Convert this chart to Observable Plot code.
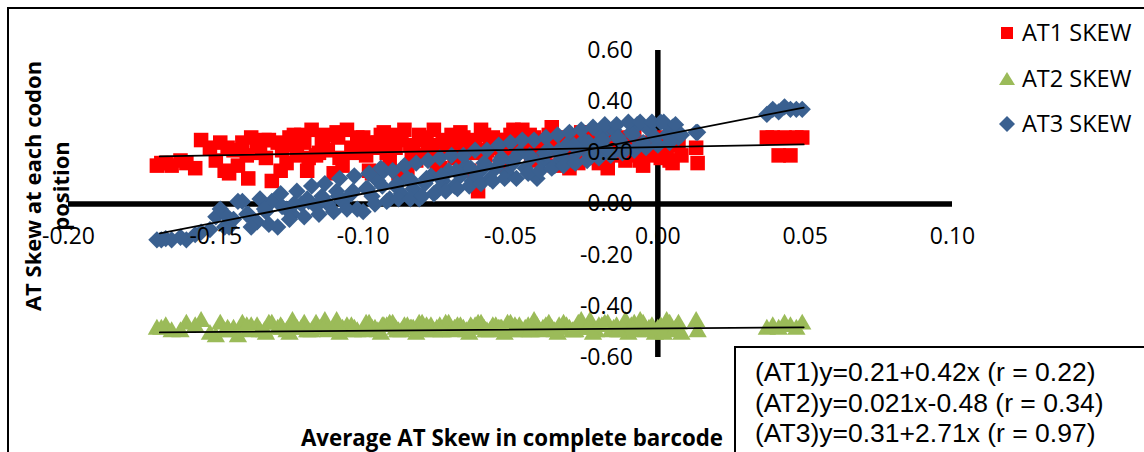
<!DOCTYPE html>
<html>
<head>
<meta charset="utf-8">
<script src="https://cdn.jsdelivr.net/npm/d3@7"></script>
<script src="https://cdn.jsdelivr.net/npm/@observablehq/plot@0.6"></script>
<style>
  html, body { margin: 0; padding: 0; background: #fff; }
  #wrap { position: relative; width: 1144px; height: 452px; overflow: hidden; font-family: "Open Sans", sans-serif; }
  #chart { position: absolute; left: 0; top: 0; }
  .frame { position: absolute; left: 7px; top: 7px; width: 1200px; height: 500px; border-left: 2px solid #000; border-top: 2px solid #000; }
  .ytitle { position: absolute; left: -104px; top: 158px; width: 300px; height: 56px; line-height: 28px; text-align: center; font-weight: 700; font-size: 22px; transform: rotate(-90deg); white-space: nowrap; }
  .xtitle { position: absolute; left: 262px; top: 423px; width: 500px; text-align: center; font-weight: 700; font-size: 22.3px; white-space: nowrap; line-height: 30px; }
  .legend { position: absolute; left: 998px; top: 17px; font-size: 23.5px; }
  .legend .item { position: relative; height: 45.5px; line-height: 30px; white-space: nowrap; }
  .legend svg { position: absolute; left: 0; top: 7px; }
  .legend span { position: absolute; left: 24px; top: 0; }
  .eqbox { position: absolute; left: 734px; top: 346px; width: 600px; height: 200px; border-left: 2px solid #000; border-top: 2px solid #000; font-family: "Liberation Sans", Arial, sans-serif; font-size: 26.5px; line-height: 30.5px; padding: 9px 0 0 19px; box-sizing: border-box; white-space: nowrap; }
</style>
</head>
<body>
<div id="wrap">
  <div id="chart"></div>
  <div class="frame"></div>
  <div class="ytitle">AT Skew at each codon<br>position</div>
  <div class="xtitle">Average AT Skew in complete barcode</div>
  <div class="legend" id="legend"></div>
  <div class="eqbox" id="eqbox"></div>
</div>
<script>
// ---- data ----
const seriesNames = ["AT1 SKEW", "AT2 SKEW", "AT3 SKEW"];
const seriesColors = ["#FF0000", "#9BBB59", "#3A6090"];
const xTicks = [-0.20, -0.15, -0.10, -0.05, 0.00, 0.05, 0.10];
const yTicks = [-0.60, -0.40, -0.20, 0.00, 0.20, 0.40, 0.60];
const equations = [
  "(AT1)y=0.21+0.42x (r = 0.22)",
  "(AT2)y=0.021x-0.48 (r = 0.34)",
  "(AT3)y=0.31+2.71x (r = 0.97)"
];
const avgSkew = [
  -0.170, -0.167, -0.165, -0.160, -0.155, -0.150, -0.147, -0.144, -0.141, -0.139,
  -0.136, -0.133, -0.131, -0.129, -0.126, -0.124, -0.121, -0.119, -0.116, -0.114,
  -0.112, -0.109, -0.107, -0.104, -0.102, -0.099, -0.097, -0.095, -0.093, -0.091,
  -0.089, -0.087, -0.085, -0.083, -0.081, -0.079, -0.077, -0.075, -0.073, -0.071,
  -0.069, -0.067, -0.065, -0.063, -0.061, -0.059, -0.057, -0.055, -0.053, -0.051,
  -0.049, -0.047, -0.045, -0.043, -0.041, -0.039, -0.037, -0.035, -0.033, -0.031,
  -0.029, -0.027, -0.025, -0.023, -0.021, -0.019, -0.017, -0.015, -0.013, -0.011,
  -0.009, -0.007, -0.005, -0.003, -0.001, 0.001, 0.003, 0.005, 0.007, 0.013,
  0.0135, 0.037, 0.039, 0.041, 0.043, 0.045, 0.047, 0.049,
  -0.1685, -0.162, -0.157, -0.152, -0.1485, -0.1455, -0.1425, -0.138, -0.135, -0.132,
  -0.128, -0.125, -0.1225, -0.120, -0.1175, -0.115, -0.113, -0.110, -0.108, -0.1055,
  -0.103, -0.100, -0.098, -0.096, -0.094, -0.092, -0.090, -0.088, -0.086, -0.084,
  -0.082, -0.080, -0.078, -0.076, -0.074, -0.072, -0.070, -0.068, -0.066, -0.064,
  -0.062, -0.060, -0.058, -0.056, -0.054, -0.052, -0.050, -0.048, -0.046, -0.044,
  -0.042, -0.040, -0.038, -0.036, -0.034, -0.032, -0.030, -0.028, -0.026, -0.024,
  -0.022, -0.020, -0.018, -0.016, -0.014, -0.012, -0.010, -0.008, -0.006, -0.004,
  -0.002, 0.000, 0.002, 0.004, 0.006, 0.008,
  -0.146, -0.1395, -0.1335, -0.1275, -0.1235, -0.1185, -0.1135, -0.1085, -0.1035, -0.0985,
  -0.0935, -0.0885, -0.0835, -0.0785, -0.0735, -0.0685, -0.0635, -0.0585, -0.0535, -0.0485,
  -0.0435, -0.0385, -0.0335, -0.0285, -0.0235, -0.0185, -0.0135, -0.0085
];
const at1Skew = [
  0.15, 0.16, 0.15, 0.16, 0.25, 0.17, 0.13, 0.21, 0.24, 0.10,
  0.23, 0.18, 0.09, 0.24, 0.16, 0.23, 0.27, 0.13, 0.19, 0.25,
  0.21, 0.28, 0.15, 0.22, 0.26, 0.19, 0.12, 0.24, 0.28, 0.17,
  0.22, 0.25, 0.14, 0.21, 0.27, 0.19, 0.23, 0.16, 0.25, 0.21,
  0.18, 0.28, 0.24, 0.20, 0.05, 0.27, 0.22, 0.25, 0.18, 0.23,
  0.29, 0.21, 0.26, 0.17, 0.24, 0.20, 0.27, 0.15, 0.23, 0.19,
  0.25, 0.16, 0.22, 0.28, 0.18, 0.24, 0.14, 0.21, 0.26, 0.17,
  0.23, 0.19, 0.15, 0.22, 0.25, 0.18, 0.21, 0.16, 0.23, 0.22,
  0.16, 0.26, 0.26, 0.19, 0.26, 0.19, 0.26, 0.26,
  0.16, 0.17, 0.14, 0.22, 0.24, 0.12, 0.15, 0.26, 0.20, 0.25,
  0.13, 0.26, 0.19, 0.24, 0.29, 0.20, 0.27, 0.12, 0.18, 0.29,
  0.21, 0.26, 0.13, 0.22, 0.27, 0.20, 0.25, 0.12, 0.29, 0.23,
  0.17, 0.26, 0.21, 0.29, 0.14, 0.24, 0.27, 0.22, 0.26, 0.13,
  0.25, 0.29, 0.21, 0.26, 0.24, 0.15, 0.27, 0.23, 0.29, 0.22,
  0.26, 0.19, 0.25, 0.30, 0.21, 0.26, 0.14, 0.24, 0.28, 0.20,
  0.26, 0.16, 0.23, 0.27, 0.19, 0.25, 0.20, 0.27, 0.17, 0.24,
  0.19, 0.26, 0.21, 0.17, 0.24, 0.19,
  0.22, 0.19, 0.25, 0.21, 0.27, 0.18, 0.23, 0.26, 0.20, 0.24,
  0.22, 0.27, 0.19, 0.25, 0.21, 0.26, 0.23, 0.19, 0.25, 0.22,
  0.27, 0.20, 0.24, 0.21, 0.26, 0.18, 0.23, 0.21
];
const at2Skew = [
  -0.49, -0.48, -0.50, -0.47, -0.46, -0.52, -0.50, -0.49, -0.47, -0.50,
  -0.48, -0.51, -0.47, -0.49, -0.50, -0.46, -0.49, -0.50, -0.47, -0.49,
  -0.50, -0.46, -0.49, -0.48, -0.50, -0.47, -0.49, -0.50, -0.48, -0.47,
  -0.49, -0.50, -0.48, -0.49, -0.47, -0.50, -0.48, -0.49, -0.50, -0.47,
  -0.49, -0.48, -0.50, -0.49, -0.47, -0.49, -0.50, -0.48, -0.49, -0.47,
  -0.50, -0.48, -0.49, -0.50, -0.48, -0.49, -0.47, -0.50, -0.49, -0.48,
  -0.50, -0.47, -0.49, -0.46, -0.50, -0.48, -0.47, -0.49, -0.50, -0.46,
  -0.48, -0.50, -0.47, -0.49, -0.51, -0.48, -0.46, -0.50, -0.47, -0.46,
  -0.50, -0.49, -0.48, -0.49, -0.47, -0.48, -0.49, -0.47,
  -0.49, -0.50, -0.48, -0.51, -0.47, -0.50, -0.52, -0.48, -0.50, -0.47,
  -0.48, -0.51, -0.49, -0.47, -0.50, -0.49, -0.46, -0.49, -0.51, -0.48,
  -0.49, -0.50, -0.47, -0.49, -0.51, -0.48, -0.47, -0.50, -0.48, -0.49,
  -0.51, -0.47, -0.49, -0.50, -0.48, -0.47, -0.50, -0.48, -0.49, -0.51,
  -0.48, -0.47, -0.50, -0.48, -0.49, -0.51, -0.47, -0.49, -0.50, -0.48,
  -0.46, -0.50, -0.48, -0.49, -0.51, -0.47, -0.49, -0.50, -0.46, -0.49,
  -0.51, -0.48, -0.47, -0.50, -0.48, -0.49, -0.51, -0.47, -0.46, -0.50,
  -0.48, -0.49, -0.51, -0.47, -0.49, -0.51,
  -0.49, -0.48, -0.50, -0.49, -0.48, -0.50, -0.49, -0.48, -0.50, -0.49,
  -0.48, -0.50, -0.49, -0.48, -0.50, -0.49, -0.48, -0.50, -0.49, -0.48,
  -0.50, -0.49, -0.48, -0.50, -0.49, -0.48, -0.50, -0.49
];
const at3Skew = [
  -0.14, -0.135, -0.14, -0.14, -0.11, -0.05, -0.09, -0.06, 0.01, -0.04,
  -0.07, -0.03, 0.01, -0.09, -0.02, -0.04, 0.00, 0.02, -0.01, 0.03,
  0.00, 0.05, 0.01, 0.04, -0.02, 0.06, 0.03, 0.09, 0.13, 0.02,
  0.07, 0.04, 0.10, 0.06, 0.02, 0.08, 0.11, 0.05, 0.09, 0.13,
  0.07, 0.11, 0.15, 0.09, 0.12, 0.16, 0.10, 0.14, 0.18, 0.12,
  0.16, 0.20, 0.14, 0.18, 0.10, 0.17, 0.21, 0.15, 0.19, 0.23,
  0.17, 0.21, 0.25, 0.19, 0.23, 0.27, 0.21, 0.29, 0.25, 0.22,
  0.28, 0.31, 0.24, 0.29, 0.26, 0.32, 0.27, 0.30, 0.26, 0.28,
  0.28, 0.35, 0.37, 0.36, 0.38, 0.37, 0.37, 0.37,
  -0.14, -0.13, -0.12, -0.10, -0.02, -0.09, 0.01, -0.09, 0.02, -0.08,
  0.04, -0.06, 0.05, -0.05, 0.07, -0.04, 0.08, -0.03, 0.10, -0.02,
  0.11, -0.03, 0.12, 0.00, 0.14, 0.01, 0.13, 0.02, 0.15, 0.02,
  0.16, 0.03, 0.17, 0.04, 0.18, 0.05, 0.19, 0.06, 0.19, 0.07,
  0.21, 0.08, 0.21, 0.09, 0.23, 0.10, 0.24, 0.10, 0.25, 0.12,
  0.25, 0.13, 0.26, 0.14, 0.27, 0.15, 0.28, 0.16, 0.29, 0.17,
  0.30, 0.18, 0.31, 0.19, 0.31, 0.20, 0.32, 0.21, 0.32, 0.22,
  0.32, 0.23, 0.32, 0.24, 0.31, 0.27,
  -0.05, -0.04, -0.02, -0.01, 0.00, 0.01, 0.02, 0.03, 0.05, 0.06,
  0.07, 0.08, 0.09, 0.10, 0.11, 0.13, 0.14, 0.15, 0.17, 0.18,
  0.19, 0.20, 0.21, 0.23, 0.24, 0.25, 0.26, 0.27
];
// trend lines as drawn in the picture (end points)
const trendX = [-0.169, 0.0495];
const at1Trend = [0.186, 0.233];
const at2Trend = [-0.502, -0.482];
const at3Trend = [-0.115, 0.377];

// ---- build tables ----
const points = avgSkew.map((x, i) => ({x, at1: at1Skew[i], at2: at2Skew[i], at3: at3Skew[i]}));
const trends = trendX.map((x, i) => ({x, at1: at1Trend[i], at2: at2Trend[i], at3: at3Trend[i]}));
const fmt = d => d.toFixed(2);

const chart = Plot.plot({
  width: 1144,
  height: 452,
  marginLeft: 68,
  marginRight: 192,
  marginTop: 50,
  marginBottom: 95,
  x: {domain: [-0.2, 0.1], axis: null},
  y: {domain: [-0.6, 0.6], axis: null},
  style: {background: "transparent", overflow: "visible"},
  marks: [
    Plot.ruleY([0], {stroke: "#000", strokeWidth: 5.5}),
    Plot.ruleX([0], {stroke: "#000", strokeWidth: 5.5}),
    Plot.dot(points, {x: "x", y: "at1", symbol: "square", r: 8.2, fill: seriesColors[0], stroke: "none"}),
    Plot.dot(points, {x: "x", y: "at2", symbol: "triangle", r: 6.8, fill: seriesColors[1], stroke: "none"}),
    Plot.dot(points, {x: "x", y: "at3", symbol: "diamond2", r: 7.8, fill: seriesColors[2], stroke: "none"}),
    Plot.line(trends, {x: "x", y: "at1", stroke: "#000", strokeWidth: 1.8}),
    Plot.line(trends, {x: "x", y: "at2", stroke: "#000", strokeWidth: 1.8}),
    Plot.line(trends, {x: "x", y: "at3", stroke: "#000", strokeWidth: 1.8}),
    Plot.text(xTicks, {x: d => d, y: 0, dy: 33, text: fmt, textAnchor: "middle", fontSize: 23, fontFamily: "Open Sans", fill: "#000"}),
    Plot.text(yTicks, {x: 0, y: d => d, dx: -25, text: fmt, textAnchor: "end", fontSize: 23, fontFamily: "Open Sans", fill: "#000"})
  ]
});
document.getElementById("chart").appendChild(chart);

// legend
const legend = document.getElementById("legend");
const shapes = [
  '<svg width="18" height="18"><rect x="3" y="3" width="12" height="12" fill="' + seriesColors[0] + '"/></svg>',
  '<svg width="18" height="18"><polygon points="9,2 17,15 1,15" fill="' + seriesColors[1] + '"/></svg>',
  '<svg width="18" height="18"><polygon points="9,1 17,9 9,17 1,9" fill="' + seriesColors[2] + '"/></svg>'
];
seriesNames.forEach((name, i) => {
  const div = document.createElement("div");
  div.className = "item";
  div.innerHTML = shapes[i] + "<span>" + name + "</span>";
  legend.appendChild(div);
});

// equation box
document.getElementById("eqbox").innerHTML = equations.map(e => "<div>" + e + "</div>").join("");
</script>
</body>
</html>
